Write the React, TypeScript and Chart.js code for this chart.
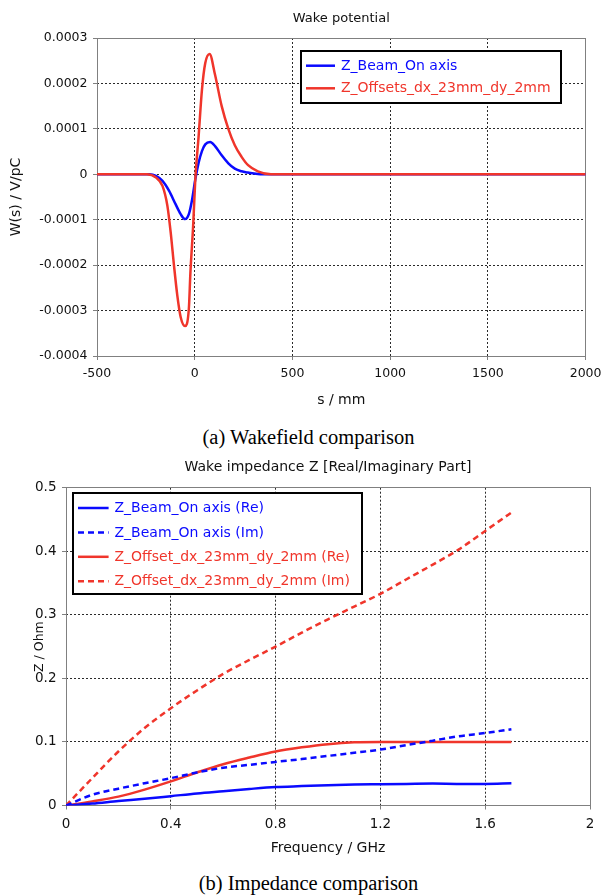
import React, { useEffect, useRef } from 'react';
import { Chart, registerables } from 'chart.js';

Chart.register(...registerables);

// ---------- Wake potential data ----------
const wakeBeamS = [-500, -232, -198, -165, -131, -98, -72, -50, -30, -13, 3, 20, 37, 54, 79, 104, 138, 172, 205, 239, 273, 323, 390, 500, 1000, 1500, 2000];
const wakeBeamW = [0, 0, -0.0000037, -0.0000146, -0.0000365, -0.0000658, -0.0000877, -0.0000987, -0.0000877, -0.0000548, -0.000011, 0.0000256, 0.0000511, 0.0000658, 0.0000709, 0.0000621, 0.0000417, 0.0000241, 0.0000124, 0.0000066, 0.0000037, 0.0000007, 0, 0, 0, 0, 0];

const wakeOffsetS = [-500, -245, -198, -165, -140, -123, -106, -89, -72, -50, -30, -22, -8, 3, 20, 37, 54, 76, 104, 138, 172, 205, 239, 273, 323, 390, 500, 1000, 1500, 2000];
const wakeOffsetW = [0, 0, -0.0000073, -0.0000256, -0.000069, -0.000128, -0.000201, -0.000267, -0.000314, -0.000334, -0.000296, -0.000216, -0.000113, -0.000011, 0.000084, 0.000186, 0.000245, 0.000265, 0.000219, 0.00015, 0.0001, 0.000064, 0.000039, 0.00002, 0.0000066, 0, 0, 0, 0, 0];

const wakeXTicks = [-500, 0, 500, 1000, 1500, 2000];
const wakeXTickLabels = ['-500', '0', '500', '1000', '1500', '2000'];
const wakeYTicks = [-0.0004, -0.0003, -0.0002, -0.0001, 0, 0.0001, 0.0002, 0.0003];
const wakeYTickLabels = ['-0.0004', '-0.0003', '-0.0002', '-0.0001', '0', '0.0001', '0.0002', '0.0003'];

// ---------- Impedance data ----------
const freqGHz = [0, 0.1, 0.2, 0.3, 0.4, 0.5, 0.6, 0.7, 0.8, 0.9, 1.0, 1.1, 1.2, 1.3, 1.4, 1.5, 1.6, 1.7];
const beamRe = [0, 0.003, 0.007, 0.0105, 0.0147, 0.019, 0.0225, 0.026, 0.029, 0.0305, 0.032, 0.033, 0.0335, 0.034, 0.0345, 0.034, 0.034, 0.035];
const beamIm = [0, 0.0168, 0.0265, 0.035, 0.043, 0.052, 0.0595, 0.064, 0.0686, 0.073, 0.078, 0.083, 0.088, 0.095, 0.102, 0.109, 0.114, 0.12];
const offsetRe = [0, 0.0065, 0.014, 0.025, 0.038, 0.052, 0.065, 0.0755, 0.085, 0.0915, 0.0965, 0.0994, 0.1, 0.1, 0.1, 0.1, 0.1, 0.1];
const offsetIm = [0, 0.043, 0.085, 0.122, 0.153, 0.181, 0.207, 0.229, 0.25, 0.272, 0.293, 0.313, 0.333, 0.356, 0.379, 0.403, 0.432, 0.461];

const impXTicks = [0, 0.4, 0.8, 1.2, 1.6, 2];
const impXTickLabels = ['0', '0.4', '0.8', '1.2', '1.6', '2'];
const impYTicks = [0, 0.1, 0.2, 0.3, 0.4, 0.5];
const impYTickLabels = ['0', '0.1', '0.2', '0.3', '0.4', '0.5'];

// ---------- styles ----------
const FONT = '"DejaVu Sans", Verdana, sans-serif';
const BLUE = '#0a0aff';
const RED = '#f0352b';
const AXIS = '#808080';
const GRID = '#2a2a2a';
const TEXT = '#111111';

function labelFor(ticks: number[], labels: string[]) {
  return (v: any) => {
    const k = ticks.findIndex((t) => Math.abs(t - Number(v)) < 1e-9);
    return k >= 0 ? labels[k] : '';
  };
}

function pts(xs: number[], ys: number[]) {
  return xs.map((x, i) => ({ x, y: ys[i] }));
}

type LegendCfg = { dx: number; dy: number; w: number; h: number; row0: number; rowH: number; lx0: number; lx1: number; tx: number };

function makeDecor(title: string, titleY: number, titleSize: number, lg: LegendCfg) {
  return {
    id: 'decor',
    beforeDatasetsDraw(chart: any) {
      const { ctx, chartArea: a } = chart;
      const al = (p: number) => Math.round(p - 0.5) + 0.5;
      ctx.save();
      ctx.strokeStyle = AXIS;
      ctx.lineWidth = 1;
      ctx.setLineDash([]);
      const l = al(a.left), r = al(a.right), t = al(a.top), b = al(a.bottom);
      ctx.strokeRect(l, t, r - l, b - t);
      ctx.restore();
    },
    afterDraw(chart: any) {
      const { ctx, chartArea: a } = chart;
      ctx.save();
      ctx.font = `${titleSize}px ${FONT}`;
      ctx.fillStyle = TEXT;
      ctx.textAlign = 'center';
      ctx.textBaseline = 'middle';
      ctx.fillText(title, (a.left + a.right) / 2, titleY);

      const bx = Math.round(a.left + lg.dx);
      const by = Math.round(a.top + lg.dy);
      ctx.fillStyle = '#ffffff';
      ctx.fillRect(bx, by, lg.w, lg.h);
      ctx.strokeStyle = '#000000';
      ctx.lineWidth = 2;
      ctx.strokeRect(bx, by, lg.w, lg.h);
      ctx.font = `14px ${FONT}`;
      ctx.textAlign = 'left';
      chart.data.datasets.forEach((ds: any, i: number) => {
        const y = by + lg.row0 + i * lg.rowH;
        ctx.beginPath();
        ctx.strokeStyle = ds.borderColor;
        ctx.lineWidth = 2.5;
        ctx.setLineDash(ds.borderDash || []);
        ctx.moveTo(bx + lg.lx0, y);
        ctx.lineTo(bx + lg.lx1, y);
        ctx.stroke();
        ctx.setLineDash([]);
        ctx.fillStyle = ds.borderColor;
        ctx.fillText(ds.label, bx + lg.tx, y + 0.5);
      });
      ctx.restore();
    },
  };
}

function axisCommon(tickSize: number, pad: number) {
  return {
    grid: {
      color: GRID,
      lineWidth: 1,
      drawTicks: true,
      tickLength: 4,
      tickColor: AXIS,
      tickWidth: 1,
      tickBorderDash: [],
    },
    border: { display: false, dash: [2, 2] },
    ticks: {
      font: { size: tickSize, family: FONT },
      color: TEXT,
      padding: pad,
      autoSkip: false,
      maxRotation: 0,
      minRotation: 0,
    },
  };
}

export default function App() {
  const c1 = useRef<HTMLCanvasElement | null>(null);
  const c2 = useRef<HTMLCanvasElement | null>(null);

  useEffect(() => {
    Chart.defaults.font.family = FONT;

    const xa1 = axisCommon(12.5, 6.5);
    const ya1 = axisCommon(12.5, 5.5);
    const chart1 = new Chart(c1.current as HTMLCanvasElement, {
      type: 'line',
      data: {
        datasets: [
          {
            label: 'Z_Beam_On axis',
            data: pts(wakeBeamS, wakeBeamW),
            borderColor: BLUE,
            borderWidth: 2.5,
            pointRadius: 0,
            cubicInterpolationMode: 'monotone',
            fill: false,
            order: 1,
          },
          {
            label: 'Z_Offsets_dx_23mm_dy_2mm',
            data: pts(wakeOffsetS, wakeOffsetW),
            borderColor: RED,
            borderWidth: 2.5,
            pointRadius: 0,
            cubicInterpolationMode: 'monotone',
            fill: false,
            order: 0,
          },
        ] as any,
      },
      options: {
        responsive: false,
        animation: false,
        devicePixelRatio: 1,
        layout: { padding: { top: 38, right: 16.3, bottom: 0, left: 0 } },
        plugins: { legend: { display: false }, tooltip: { enabled: false }, title: { display: false } },
        scales: {
          x: {
            type: 'linear',
            min: -500,
            max: 2000,
            ...xa1,
            ticks: { ...xa1.ticks, callback: labelFor(wakeXTicks, wakeXTickLabels) },
            afterBuildTicks: (s: any) => {
              s.ticks = wakeXTicks.map((v) => ({ value: v }));
            },
            afterFit: (s: any) => {
              s.height = 64;
            },
            title: {
              display: true,
              text: 's / mm',
              color: TEXT,
              font: { size: 14, family: FONT },
              padding: { top: 0, bottom: 11.6 },
            },
          },
          y: {
            type: 'linear',
            min: -0.0004,
            max: 0.0003,
            ...ya1,
            ticks: { ...ya1.ticks, callback: labelFor(wakeYTicks, wakeYTickLabels) },
            afterBuildTicks: (s: any) => {
              s.ticks = wakeYTicks.map((v) => ({ value: v }));
            },
            afterFit: (s: any) => {
              s.width = 97;
            },
            title: {
              display: true,
              text: 'W(s) / V/pC',
              color: TEXT,
              font: { size: 14, family: FONT },
              padding: { top: 8.3, bottom: 0 },
            },
          },
        } as any,
      },
      plugins: [
        makeDecor('Wake potential', 18.3, 13, {
          dx: 204, dy: 13, w: 260, h: 52, row0: 14.7, rowH: 22.6, lx0: 5, lx1: 34, tx: 40,
        }),
      ],
    } as any);

    const xa2 = axisCommon(13.5, 7);
    const ya2 = axisCommon(13.5, 5.5);
    const chart2 = new Chart(c2.current as HTMLCanvasElement, {
      type: 'line',
      data: {
        datasets: [
          {
            label: 'Z_Beam_On axis (Re)',
            data: pts(freqGHz, beamRe),
            borderColor: BLUE,
            borderWidth: 2.5,
            pointRadius: 0,
            cubicInterpolationMode: 'monotone',
            fill: false,
          },
          {
            label: 'Z_Beam_On axis (Im)',
            data: pts(freqGHz, beamIm),
            borderColor: BLUE,
            borderWidth: 2.5,
            borderDash: [6, 4],
            pointRadius: 0,
            cubicInterpolationMode: 'monotone',
            fill: false,
          },
          {
            label: 'Z_Offset_dx_23mm_dy_2mm (Re)',
            data: pts(freqGHz, offsetRe),
            borderColor: RED,
            borderWidth: 2.5,
            pointRadius: 0,
            cubicInterpolationMode: 'monotone',
            fill: false,
          },
          {
            label: 'Z_Offset_dx_23mm_dy_2mm (Im)',
            data: pts(freqGHz, offsetIm),
            borderColor: RED,
            borderWidth: 2.5,
            borderDash: [6, 4],
            pointRadius: 0,
            cubicInterpolationMode: 'monotone',
            fill: false,
          },
        ] as any,
      },
      options: {
        responsive: false,
        animation: false,
        devicePixelRatio: 1,
        layout: { padding: { top: 37.7, right: 18, bottom: 0, left: 0 } },
        plugins: { legend: { display: false }, tooltip: { enabled: false }, title: { display: false } },
        scales: {
          x: {
            type: 'linear',
            min: 0,
            max: 2,
            ...xa2,
            ticks: { ...xa2.ticks, callback: labelFor(impXTicks, impXTickLabels) },
            afterBuildTicks: (s: any) => {
              s.ticks = impXTicks.map((v) => ({ value: v }));
            },
            afterFit: (s: any) => {
              s.height = 54.5;
            },
            title: {
              display: true,
              text: 'Frequency / GHz',
              color: TEXT,
              font: { size: 14, family: FONT },
              padding: { top: 0, bottom: 3.3 },
            },
          },
          y: {
            type: 'linear',
            min: 0,
            max: 0.5,
            ...ya2,
            ticks: { ...ya2.ticks, callback: labelFor(impYTicks, impYTickLabels) },
            afterBuildTicks: (s: any) => {
              s.ticks = impYTicks.map((v) => ({ value: v }));
            },
            afterFit: (s: any) => {
              s.width = 66;
            },
            title: {
              display: true,
              text: 'Z / Ohm',
              color: TEXT,
              font: { size: 12.5, family: FONT },
              padding: { top: 32.5, bottom: 0 },
            },
          },
        } as any,
      },
      plugins: [
        makeDecor('Wake impedance Z [Real/Imaginary Part]', 17, 14, {
          dx: 7, dy: 5.3, w: 289, h: 101, row0: 15, rowH: 24.4, lx0: 5, lx1: 35.6, tx: 41.5,
        }),
      ],
    } as any);

    return () => {
      chart1.destroy();
      chart2.destroy();
    };
  }, []);

  const captionStyle: React.CSSProperties = {
    position: 'absolute',
    left: 4.5,
    width: 608,
    textAlign: 'center',
    fontFamily: '"Liberation Serif", "Times New Roman", serif',
    fontSize: 20.5,
    lineHeight: '24px',
    color: '#000',
    whiteSpace: 'nowrap',
  };

  return (
    <div style={{ position: 'absolute', left: 0, top: 0, width: 608, height: 895, background: '#ffffff', overflow: 'hidden' }}>
      <canvas ref={c1} width={608} height={420} style={{ position: 'absolute', left: 0, top: 0, display: 'block' }} />
      <div style={{ ...captionStyle, top: 437 - 12 }}>(a) Wakefield comparison</div>
      <canvas ref={c2} width={608} height={410} style={{ position: 'absolute', left: 0, top: 450, display: 'block' }} />
      <div style={{ ...captionStyle, top: 883 - 12 }}>(b) Impedance comparison</div>
    </div>
  );
}
